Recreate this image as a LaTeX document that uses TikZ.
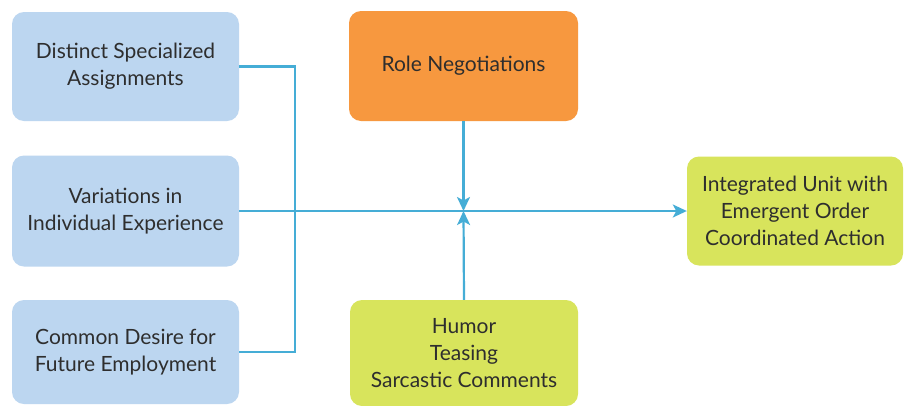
\documentclass[tikz,border=0pt]{standalone}
\usepackage{fontspec}
\setmainfont{Lato}
\usetikzlibrary{arrows.meta}
\definecolor{boxblue}{HTML}{BCD6F0}
\definecolor{boxorange}{HTML}{F7983F}
\definecolor{boxgreen}{HTML}{D8E45C}
\definecolor{linecol}{HTML}{45ADD6}
\definecolor{txt}{HTML}{2E2E2E}
\tikzset{
  card/.style={rectangle, rounded corners=12pt, draw=none, align=center,
    text=txt, font=\fontsize{21}{27}\selectfont, inner sep=0pt},
  conn/.style={draw=linecol, line width=2.2pt},
  arr/.style={conn, -{Stealth[length=14pt,width=13pt,inset=3.5pt]}},
}
\begin{document}
\begin{tikzpicture}[x=1pt,y=-1pt]
\useasboundingbox (0,0) rectangle (908,405);
\fill[white] (0,0) rectangle (908,405);
\node[card, fill=boxblue, minimum width=227pt, minimum height=109pt] (b1) at (125.5,66.5) {Distinct Specialized\\Assignments};
\node[card, fill=boxblue, minimum width=227pt, minimum height=111pt] (b2) at (125.5,211) {Variations in\\Individual Experience};
\node[card, fill=boxblue, minimum width=227pt, minimum height=104pt] (b3) at (125.5,352) {Common Desire for\\Future Employment};
\node[card, fill=boxorange, minimum width=229pt, minimum height=110pt] (role) at (463.5,66) {Role Negotiations};
\node[card, fill=boxgreen, minimum width=228pt, minimum height=106pt] (humor) at (464,353) {Humor\\Teasing\\Sarcastic Comments};
\node[card, fill=boxgreen, minimum width=216pt, minimum height=109pt] (integ) at (795,211) {Integrated Unit with\\Emergent Order\\Coordinated Action};
\coordinate (jx) at (295,0);
\coordinate (m) at (463.5,211);
\draw[conn] (b1.east) -| (jx |- b3.east) -- (b3.east);
\draw[arr] (b2.east) -- (integ.west);
\draw[arr] (role.south) -- (m);
\draw[arr] (humor.north) -- (m);
\end{tikzpicture}
\end{document}
